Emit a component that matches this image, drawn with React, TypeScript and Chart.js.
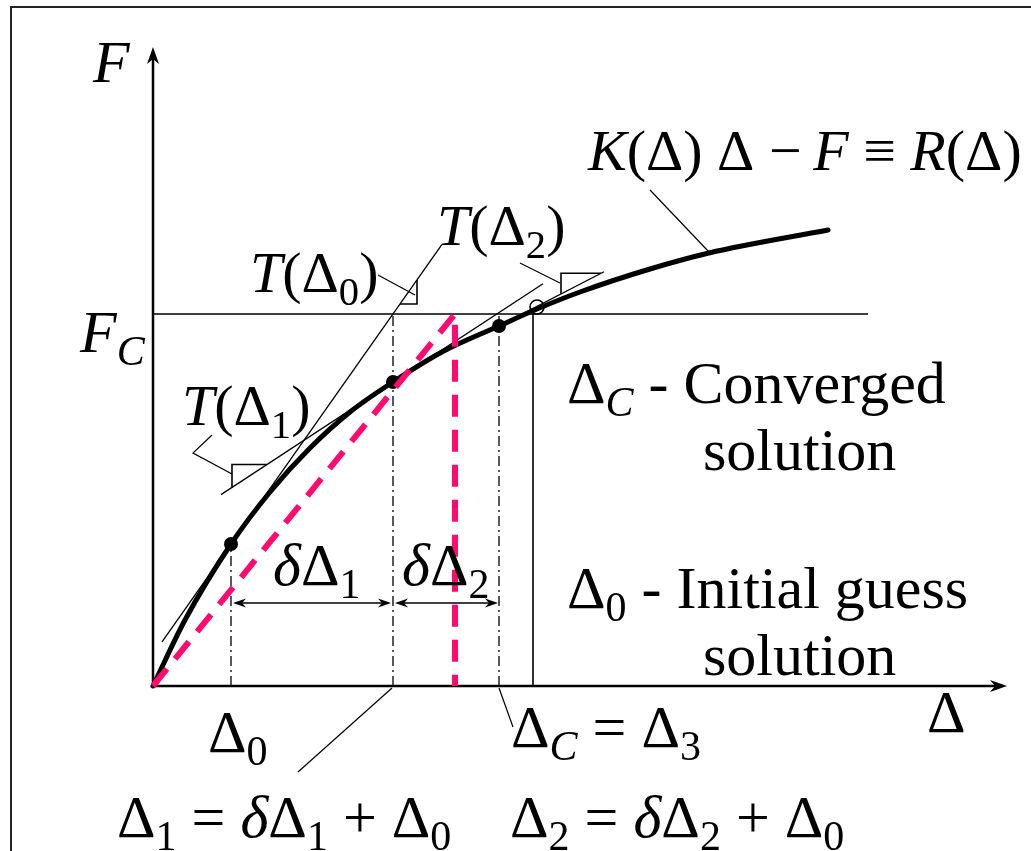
import React, { useEffect, useRef } from "react";
import { Chart, registerables } from "chart.js";

Chart.register(...registerables);

// ---------------- data (Δ = displacement, F = force, arbitrary units) ----------------
const CURVE_DELTA = [0, 32, 78, 117, 157, 197, 240, 289, 346, 384, 427, 497, 556, 675];
const CURVE_FORCE = [0, 66, 142, 194, 238, 274, 304, 334, 360, 377, 394, 417, 433, 456];

const ITER_DELTA = [78, 240, 346]; // Δ0, Δ1, Δ2
const ITER_FORCE = [142, 304, 360]; // F at Δ0, Δ1, Δ2
const TANGENT_SLOPE = [1.42, 0.655, 0.517]; // T(Δ0), T(Δ1), T(Δ2)
const TANGENT_FROM = [9, 68, 335];
const TANGENT_TO = [289, 390, 451];
const TRIANGLE_X = [
  [247, 264],
  [79, 114],
  [408, 448],
];
const TRIANGLE_SIDE = ["right", "left", "left"];
const ITER_TOP = [142, 372, 372]; // top of dash-dot verticals

const DELTA_C = 380;
const F_C = 372;
const CONVERGED = [384, 379];
const SECANT_DELTA = 302;
const FC_LINE_END = 715;
const DIM_LEVEL = 83;
const DIM_1 = [80, 238];
const DIM_2 = [242, 345];
const AXIS_X_END = 854;
const AXIS_Y_END = 639;

const LEADERS = [
  [[225, 411], [262, 391]], // T(Δ0)
  [[59, 251], [40, 233], [79, 212]], // T(Δ1)
  [[367, 423], [407, 403]], // T(Δ2)
  [[497, 496], [556, 434]], // curve label
  [[239, -2], [145, -86]], // Δ1
  [[346, -2], [360, -41]], // ΔC
];

const X_MIN = -153;
const X_MAX = 878;
const Y_MIN = -165;
const Y_MAX = 686;

const PINK = "#ff0a6e";
const FONT = '"Liberation Serif", "Times New Roman", serif';
const D = "\u0394";

type Run = { t: string; it?: boolean; sub?: boolean };
type Label = { at: [number, number]; size: number; runs: Run[] };

const LABELS: Label[] = [
  { at: [-60, 604], size: 60, runs: [{ t: "F", it: true }] },
  { at: [-73, 334], size: 60, runs: [{ t: "F", it: true }, { t: "C", it: true, sub: true }] },
  { at: [97, 394], size: 58, runs: [{ t: "T", it: true }, { t: "(" }, { t: D }, { t: "0", sub: true }, { t: ")" }] },
  { at: [284, 441], size: 58, runs: [{ t: "T", it: true }, { t: "(" }, { t: D }, { t: "2", sub: true }, { t: ")" }] },
  { at: [29, 261], size: 58, runs: [{ t: "T", it: true }, { t: "(" }, { t: D }, { t: "1", sub: true }, { t: ")" }] },
  {
    at: [435, 516],
    size: 58,
    runs: [
      { t: "K", it: true },
      { t: "(" + D + ") " + D + " \u2212\u2009" },
      { t: "F", it: true },
      { t: " \u2261 " },
      { t: "R", it: true },
      { t: "(" + D + ")" },
    ],
  },
  { at: [120, 101], size: 60, runs: [{ t: "\u03b4", it: true }, { t: D }, { t: "1", sub: true }] },
  { at: [249, 101], size: 60, runs: [{ t: "\u03b4", it: true }, { t: D }, { t: "2", sub: true }] },
  { at: [414, 283], size: 60, runs: [{ t: D }, { t: "C", it: true, sub: true }, { t: " - Converged" }] },
  { at: [550, 216], size: 60, runs: [{ t: "solution" }] },
  { at: [414, 78], size: 60, runs: [{ t: D }, { t: "0", sub: true }, { t: " - Initial guess" }] },
  { at: [550, 11], size: 60, runs: [{ t: "solution" }] },
  { at: [774, -46], size: 60, runs: [{ t: D }] },
  { at: [55, -66], size: 60, runs: [{ t: D }, { t: "0", sub: true }] },
  { at: [358, -61], size: 60, runs: [{ t: D }, { t: "C", it: true, sub: true }, { t: " = " }, { t: D }, { t: "3", sub: true }] },
  {
    at: [-36, -151],
    size: 60,
    runs: [
      { t: D }, { t: "1", sub: true }, { t: " = " }, { t: "\u03b4", it: true }, { t: D },
      { t: "1", sub: true }, { t: " + " }, { t: D }, { t: "0", sub: true },
    ],
  },
  {
    at: [357, -151],
    size: 60,
    runs: [
      { t: D }, { t: "2", sub: true }, { t: " = " }, { t: "\u03b4", it: true }, { t: D },
      { t: "2", sub: true }, { t: " + " }, { t: D }, { t: "0", sub: true },
    ],
  },
];

function tangentAt(i: number, x: number) {
  return ITER_FORCE[i] + TANGENT_SLOPE[i] * (x - ITER_DELTA[i]);
}

function lineSet(points: { x: number; y: number }[], extra: any = {}) {
  return {
    data: points,
    showLine: true,
    borderColor: "#000",
    borderWidth: 1.3,
    pointRadius: 0,
    fill: false,
    tension: 0,
    borderCapStyle: "butt",
    ...extra,
  };
}

function drawArrow(ctx: CanvasRenderingContext2D, x: number, y: number, ang: number, L: number, W: number) {
  ctx.save();
  ctx.translate(x, y);
  ctx.rotate(ang);
  ctx.beginPath();
  ctx.moveTo(0, 0);
  ctx.lineTo(-L, -W);
  ctx.lineTo(-L * 0.7, 0);
  ctx.lineTo(-L, W);
  ctx.closePath();
  ctx.fillStyle = "#000";
  ctx.fill();
  ctx.restore();
}

function drawRuns(ctx: CanvasRenderingContext2D, x: number, y: number, size: number, runs: Run[]) {
  let cx = x;
  for (const r of runs) {
    const fs = r.sub ? size * 0.7 : size;
    ctx.font = (r.it ? "italic " : "") + fs + "px " + FONT;
    const yy = r.sub ? y + size * 0.22 : y;
    ctx.fillText(r.t, cx, yy);
    cx += ctx.measureText(r.t).width;
  }
}

const overlayPlugin = {
  id: "overlay",
  beforeDatasetsDraw(chart: any) {
    const ctx: CanvasRenderingContext2D = chart.ctx;
    ctx.save();
    ctx.strokeStyle = "#222";
    ctx.lineWidth = 2;
    ctx.beginPath();
    ctx.moveTo(11, chart.height + 10);
    ctx.lineTo(11, 7);
    ctx.lineTo(chart.width + 10, 7);
    ctx.stroke();
    ctx.restore();
  },
  afterDatasetsDraw(chart: any) {
    const ctx: CanvasRenderingContext2D = chart.ctx;
    const X = (v: number) => chart.scales.x.getPixelForValue(v);
    const Y = (v: number) => chart.scales.y.getPixelForValue(v);
    ctx.save();
    // axis arrowheads
    drawArrow(ctx, X(AXIS_X_END), Y(0), 0, 17, 6);
    drawArrow(ctx, X(0), Y(AXIS_Y_END), -Math.PI / 2, 17, 6);
    // dimension arrowheads
    drawArrow(ctx, X(DIM_1[0]), Y(DIM_LEVEL), Math.PI, 13, 4.5);
    drawArrow(ctx, X(DIM_1[1]), Y(DIM_LEVEL), 0, 13, 4.5);
    drawArrow(ctx, X(DIM_2[0]), Y(DIM_LEVEL), Math.PI, 13, 4.5);
    drawArrow(ctx, X(DIM_2[1]), Y(DIM_LEVEL), 0, 13, 4.5);
    // labels
    ctx.fillStyle = "#000";
    ctx.textBaseline = "alphabetic";
    ctx.textAlign = "left";
    for (const l of LABELS) {
      drawRuns(ctx, X(l.at[0]), Y(l.at[1]), l.size, l.runs);
    }
    ctx.restore();
  },
};

export default function App() {
  const ref = useRef<HTMLCanvasElement | null>(null);

  useEffect(() => {
    if (!ref.current) return;
    const datasets: any[] = [];

    // pink secant (drawn on top)
    datasets.push(
      lineSet(
        [
          { x: 0, y: 0 },
          { x: SECANT_DELTA, y: F_C },
          { x: SECANT_DELTA, y: 0 },
        ],
        { borderColor: PINK, borderWidth: 6, borderDash: [22, 13], borderJoinStyle: "miter" }
      )
    );
    // iteration points
    datasets.push({
      data: ITER_DELTA.map((d, i) => ({ x: d, y: ITER_FORCE[i] })),
      showLine: false,
      pointRadius: 7,
      pointBackgroundColor: "#000",
      pointBorderColor: "#000",
      pointBorderWidth: 0,
    });
    // converged point (open circle)
    datasets.push({
      data: [{ x: CONVERGED[0], y: CONVERGED[1] }],
      showLine: false,
      pointRadius: 7,
      pointBackgroundColor: "rgba(0,0,0,0)",
      pointBorderColor: "#000",
      pointBorderWidth: 1.6,
    });
    // response curve
    datasets.push(
      lineSet(
        CURVE_DELTA.map((d, i) => ({ x: d, y: CURVE_FORCE[i] })),
        { borderWidth: 5, cubicInterpolationMode: "monotone", borderCapStyle: "round" }
      )
    );
    // tangents and slope triangles
    for (let i = 0; i < 3; i++) {
      datasets.push(
        lineSet([
          { x: TANGENT_FROM[i], y: tangentAt(i, TANGENT_FROM[i]) },
          { x: TANGENT_TO[i], y: tangentAt(i, TANGENT_TO[i]) },
        ])
      );
      const [x1, x2] = TRIANGLE_X[i];
      const y1 = tangentAt(i, x1);
      const y2 = tangentAt(i, x2);
      const corner = TRIANGLE_SIDE[i] === "right" ? { x: x2, y: y1 } : { x: x1, y: y2 };
      datasets.push(lineSet([{ x: x1, y: y1 }, corner, { x: x2, y: y2 }], { borderWidth: 1.6 }));
    }
    // dash-dot verticals
    for (let i = 0; i < 3; i++) {
      datasets.push(
        lineSet(
          [
            { x: ITER_DELTA[i], y: 0 },
            { x: ITER_DELTA[i], y: ITER_TOP[i] },
          ],
          { borderWidth: 1.3, borderDash: [10, 4, 2, 4] }
        )
      );
    }
    // converged vertical
    datasets.push(
      lineSet(
        [
          { x: DELTA_C, y: 0 },
          { x: DELTA_C, y: F_C },
        ],
        { borderWidth: 1.6 }
      )
    );
    // F_C horizontal
    datasets.push(
      lineSet(
        [
          { x: 0, y: F_C },
          { x: FC_LINE_END, y: F_C },
        ],
        { borderWidth: 1.6 }
      )
    );
    // dimension lines
    datasets.push(lineSet([{ x: DIM_1[0] + 6, y: DIM_LEVEL }, { x: DIM_1[1] - 6, y: DIM_LEVEL }], { borderWidth: 1.6 }));
    datasets.push(lineSet([{ x: DIM_2[0] + 6, y: DIM_LEVEL }, { x: DIM_2[1] - 6, y: DIM_LEVEL }], { borderWidth: 1.6 }));
    // leaders
    for (const L of LEADERS) {
      datasets.push(lineSet(L.map((p) => ({ x: p[0], y: p[1] })), { borderWidth: 1.2 }));
    }
    // axes
    datasets.push(lineSet([{ x: 0, y: 0 }, { x: AXIS_X_END - 8, y: 0 }], { borderWidth: 2.5 }));
    datasets.push(lineSet([{ x: 0, y: 0 }, { x: 0, y: AXIS_Y_END - 8 }], { borderWidth: 2.5 }));

    const chart = new Chart(ref.current, {
      type: "scatter",
      data: { datasets },
      options: {
        responsive: false,
        animation: false,
        devicePixelRatio: 1,
        events: [],
        layout: { padding: 0, autoPadding: false },
        plugins: { legend: { display: false }, tooltip: { enabled: false } },
        scales: {
          x: { type: "linear", min: X_MIN, max: X_MAX, display: false },
          y: { type: "linear", min: Y_MIN, max: Y_MAX, display: false },
        },
      },
      plugins: [overlayPlugin],
    } as any);
    return () => chart.destroy();
  }, []);

  return (
    <canvas
      ref={ref}
      width={1031}
      height={851}
      style={{ position: "absolute", left: 0, top: 0, display: "block", width: 1031, height: 851 }}
    />
  );
}
